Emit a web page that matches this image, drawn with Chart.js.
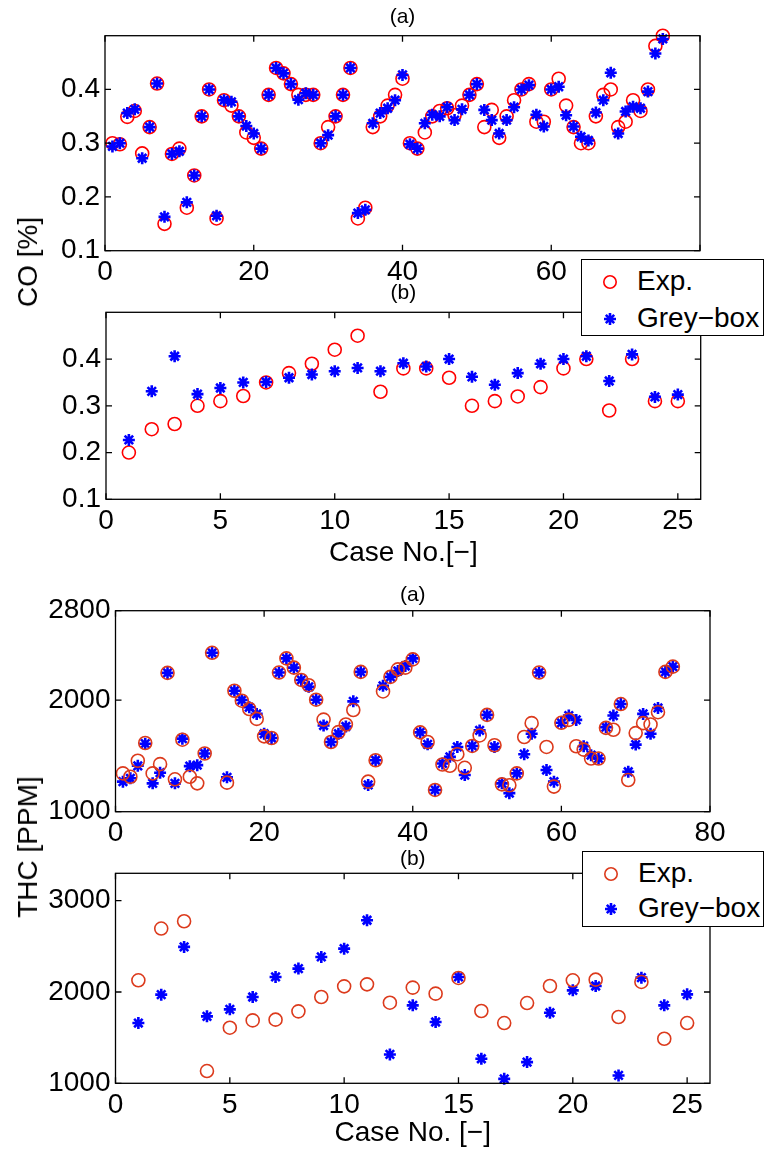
<!DOCTYPE html>
<html>
<head>
<meta charset="utf-8">
<script src="https://cdn.jsdelivr.net/npm/chart.js@4.4.0/dist/chart.umd.min.js"></script>
<style>
body { margin:0; background:#fff; width:768px; height:1151px; position:relative; overflow:hidden; font-family:"Liberation Sans", Arial, sans-serif; }
canvas { position:absolute; left:0; }
.ylab { position:absolute; font-size:28px; color:#000; white-space:nowrap; transform:translate(-50%,-50%) rotate(-90deg); }
.legend { position:absolute; background:#fff; border:1px solid #000; box-sizing:border-box; font-size:28px; color:#000; z-index:5; }
.legend .row { position:absolute; left:0; height:34px; line-height:34px; white-space:nowrap; }
.legend svg { position:absolute; top:10px; }
</style>
</head>
<body>
<canvas id="c1" width="768" height="290" style="top:0px"></canvas>
<canvas id="c2" width="768" height="290" style="top:280px"></canvas>
<canvas id="c3" width="768" height="285" style="top:570px"></canvas>
<canvas id="c4" width="768" height="306" style="top:845px"></canvas>
<div class="ylab" style="left:28px;top:262px">CO [%]</div>
<div class="ylab" style="left:28px;top:847px">THC [PPM]</div>
<div id="leg1" class="legend" style="left:581px;top:259px;width:183px;height:77px"></div>
<div id="leg2" class="legend" style="left:582px;top:851px;width:182px;height:76px"></div>
<script>
const seriesNames = ['Exp.', 'Grey−box'];

// CO, case set (a): cases 1..75
const coA_exp = [0.300,0.298,0.349,0.360,0.281,0.330,0.411,0.150,0.280,0.290,
  0.180,0.240,0.350,0.400,0.160,0.380,0.370,0.350,0.320,0.310,
  0.290,0.390,0.440,0.430,0.410,0.390,0.390,0.390,0.300,0.330,
  0.350,0.390,0.440,0.160,0.180,0.330,0.350,0.370,0.390,0.420,
  0.300,0.290,0.320,0.350,0.360,0.365,0.352,0.370,0.390,0.410,
  0.330,0.362,0.310,0.350,0.380,0.400,0.410,0.340,0.340,0.400,
  0.420,0.370,0.330,0.300,0.300,0.350,0.390,0.400,0.330,0.340,
  0.380,0.360,0.400,0.481,0.500];
const coA_model = [0.294,0.300,0.356,0.363,0.272,0.330,0.411,0.163,0.280,0.285,
  0.190,0.240,0.350,0.400,0.165,0.380,0.377,0.350,0.332,0.318,
  0.290,0.390,0.440,0.430,0.410,0.381,0.393,0.390,0.300,0.315,
  0.350,0.390,0.440,0.170,0.176,0.337,0.356,0.365,0.380,0.427,
  0.298,0.290,0.337,0.353,0.350,0.367,0.343,0.363,0.390,0.410,
  0.362,0.343,0.318,0.343,0.367,0.400,0.408,0.353,0.331,0.400,
  0.405,0.352,0.331,0.312,0.305,0.357,0.380,0.431,0.318,0.359,
  0.368,0.365,0.396,0.467,0.494];

// CO, case set (b): cases 1..25
const coB_exp = [0.200,0.250,0.261,0.300,0.310,0.321,0.350,0.370,0.390,0.420,
  0.450,0.330,0.380,0.380,0.360,0.300,0.310,0.320,0.340,0.380,
  0.400,0.290,0.400,0.310,0.310];
const coB_model = [0.227,0.331,0.406,0.325,0.338,0.350,0.351,0.360,0.367,0.374,
  0.381,0.374,0.391,0.384,0.400,0.362,0.345,0.370,0.390,0.400,
  0.406,0.353,0.410,0.319,0.324];

// THC, case set (a): cases 1..75 (case 14 not shown)
const thcA_exp = [1343,1313,1456,1615,1343,1426,2243,1290,1645,1313,
  1254,1521,2423,null,1260,2083,1994,1920,1831,1675,
  1660,2246,2373,2290,2180,2133,2003,1825,1624,1713,
  1781,1911,2252,1269,1461,2077,2207,2275,2290,2364,
  1710,1624,1195,1423,1411,1515,1393,1589,1683,1867,
  1595,1245,1237,1343,1669,1793,2246,1580,1225,1796,
  1822,1586,1556,1476,1476,1751,1734,1964,1284,1704,
  1793,1781,1891,2252,2299];
const thcA_model = [1269,1299,1411,1609,1254,1349,2243,1254,1654,1408,
  1417,1521,2423,null,1308,2083,2000,1935,1876,1698,
  1660,2246,2373,2290,2180,2118,2003,1772,1624,1698,
  1763,1988,2252,1240,1461,2127,2207,2260,2305,2373,
  1710,1603,1195,1432,1491,1580,1328,1589,1728,1867,
  1580,1254,1166,1343,1515,1698,2246,1373,1269,1796,
  1861,1822,1586,1506,1476,1757,1861,1964,1358,1601,
  1876,1698,1929,2252,2299];

// THC, case set (b): cases 1..25
const thcB_exp = [2128,2695,2775,1134,1609,1689,1697,1788,1945,2062,
  2084,1883,2048,1982,2154,1792,1660,1879,2066,2128,
  2135,1726,2110,1488,1660];
const thcB_model = [1660,1971,2494,1733,1810,1945,2165,2256,2384,2475,
  2786,1316,1854,1671,2165,1269,1049,1232,1773,2018,
  2066,1086,2157,1854,1974];

// tick labels
const coYTicks = [0.1, 0.2, 0.3, 0.4];
const thcAYTicks = [1000, 2000, 2800];
const thcBYTicks = [1000, 2000, 3000];
const caseATicks = [0, 20, 40, 60, 80];
const caseBTicks = [0, 5, 10, 15, 20, 25];

const FONT = '"Liberation Sans", Arial, sans-serif';
const RED = '#ff0000';
const ORANGE = '#dc3a1c';
const BLUE = '#0000ff';

function pts(arr) {
  const out = [];
  arr.forEach((v, i) => { if (v !== null) out.push({x: i + 1, y: v}); });
  return out;
}

// box around the axes with inward tick marks, matlab style
const frame = {
  id: 'frame',
  afterDraw(chart) {
    const {ctx, chartArea: a, scales: {x, y}} = chart;
    ctx.save();
    ctx.strokeStyle = '#000';
    ctx.lineWidth = 1.3;
    ctx.strokeRect(a.left, a.top, a.right - a.left, a.bottom - a.top);
    ctx.beginPath();
    x.ticks.forEach(t => {
      const p = x.getPixelForValue(t.value);
      ctx.moveTo(p, a.bottom); ctx.lineTo(p, a.bottom - 6);
      ctx.moveTo(p, a.top); ctx.lineTo(p, a.top + 6);
    });
    y.ticks.forEach(t => {
      const p = y.getPixelForValue(t.value);
      ctx.moveTo(a.left, p); ctx.lineTo(a.left + 6, p);
      ctx.moveTo(a.right, p); ctx.lineTo(a.right - 6, p);
    });
    ctx.stroke();
    ctx.restore();
  }
};

function panel(id, c) {
  const el = document.getElementById(id);
  const H = el.height;
  new Chart(el, {
    type: 'scatter',
    data: {
      datasets: [
        { label: seriesNames[0], data: pts(c.exp), pointStyle: 'circle', pointRadius: 6.5,
          borderColor: c.expColor, backgroundColor: 'rgba(0,0,0,0)', borderWidth: 1.6,
          order: c.expOrder, clip: false },
        { label: seriesNames[1], data: pts(c.model), pointStyle: 'star', pointRadius: 6,
          borderColor: BLUE, backgroundColor: BLUE, borderWidth: 2.6,
          order: c.modelOrder, clip: false }
      ]
    },
    options: {
      responsive: false,
      animation: false,
      events: [],
      layout: { padding: { left: c.left - 80, right: 768 - c.right, top: c.padTop, bottom: H - c.bottom - c.xh } },
      plugins: {
        legend: { display: false },
        tooltip: { enabled: false },
        title: { display: true, text: c.title, fullSize: false, color: '#000',
          font: { family: FONT, size: 21, weight: 'normal' }, padding: { top: 0, bottom: c.titleGap } }
      },
      scales: {
        x: {
          type: 'linear', min: c.xMin, max: c.xMax,
          grid: { display: false, drawTicks: false }, border: { display: false },
          ticks: { color: '#000', padding: 5, font: { family: FONT, size: 28 }, maxRotation: 0, callback: v => String(v) },
          afterBuildTicks: s => { s.ticks = c.xTicks.map(v => ({ value: v })); },
          afterFit: s => { s.height = c.xh; s.paddingLeft = 0; s.paddingRight = 0; },
          title: { display: !!c.xTitle, text: c.xTitle, color: '#000', font: { family: FONT, size: 28 }, padding: 0 }
        },
        y: {
          type: 'linear', min: c.yMin, max: c.yMax,
          grid: { display: false, drawTicks: false }, border: { display: false },
          ticks: { color: '#000', padding: 5, font: { family: FONT, size: 28 }, callback: v => String(v) },
          afterBuildTicks: s => { s.ticks = c.yTicks.map(v => ({ value: v })); },
          afterFit: s => { s.width = 80; s.paddingTop = 0; s.paddingBottom = 0; }
        }
      }
    },
    plugins: [frame]
  });
}

panel('c1', { exp: coA_exp, model: coA_model, expColor: RED, expOrder: 1, modelOrder: 0,
  title: '(a)', padTop: 4.4, titleGap: 6.1, left: 105, right: 700, bottom: 250.7, xh: 35,
  xMin: 0, xMax: 80, xTicks: caseATicks, yMin: 0.1, yMax: 0.5, yTicks: coYTicks });
panel('c2', { exp: coB_exp, model: coB_model, expColor: RED, expOrder: 1, modelOrder: 0,
  title: '(b)', padTop: 0.4, titleGap: 6.7, left: 106, right: 700.7, bottom: 219.3, xh: 70.5,
  xMin: 0, xMax: 26, xTicks: caseBTicks, yMin: 0.1, yMax: 0.5, yTicks: coYTicks, xTitle: 'Case No.[−]' });
panel('c3', { exp: thcA_exp, model: thcA_model, expColor: ORANGE, expOrder: 0, modelOrder: 1,
  title: '(a)', padTop: 12.4, titleGap: 3.1, left: 115.5, right: 710, bottom: 241.7, xh: 30,
  xMin: 0, xMax: 80, xTicks: caseATicks, yMin: 1000, yMax: 2800, yTicks: thcAYTicks });
panel('c4', { exp: thcB_exp, model: thcB_model, expColor: ORANGE, expOrder: 0, modelOrder: 1,
  title: '(b)', padTop: 1.4, titleGap: 1.7, left: 115.5, right: 710, bottom: 238.3, xh: 66.5,
  xMin: 0, xMax: 26, xTicks: caseBTicks, yMin: 1000, yMax: 3300, yTicks: thcBYTicks, xTitle: 'Case No. [−]' });

// legend boxes (html, they sit across two panels)
function marker(kind, color) {
  if (kind === 0) {
    return '<svg width="16" height="16" viewBox="0 0 16 16"><circle cx="8" cy="8" r="6.2" fill="none" stroke="' + color + '" stroke-width="1.6"/></svg>';
  }
  return '<svg width="16" height="16" viewBox="0 0 16 16"><path d="M8 2V14M2 8H14M3.8 3.8L12.2 12.2M3.8 12.2L12.2 3.8" stroke="' + color + '" stroke-width="2.6"/></svg>';
}
function legend(id, rows, expColor) {
  const el = document.getElementById(id);
  const colors = [expColor, BLUE];
  el.innerHTML = seriesNames.map((name, i) =>
    '<div class="row" style="top:' + (rows[i] - 17) + 'px;width:100%">' +
    '<span style="position:absolute;left:20px;top:0">' + marker(i, colors[i]) + '</span>' +
    '<span style="position:absolute;left:55px">' + name + '</span></div>').join('');
}
legend('leg1', [21, 58], RED);
legend('leg2', [21, 56], ORANGE);
</script>
</body>
</html>
